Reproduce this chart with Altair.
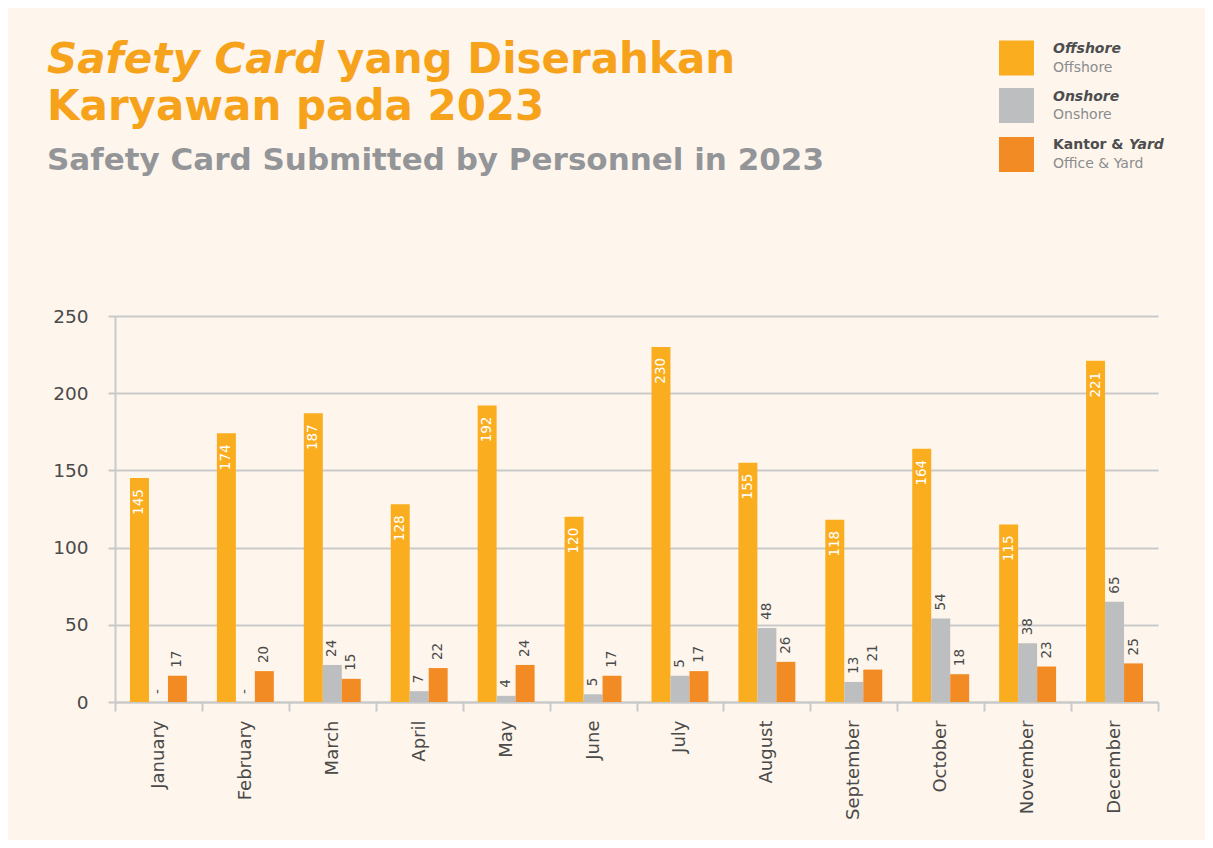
import altair as alt
import pandas as pd

months = ["January", "February", "March", "April", "May", "June", "July",
          "August", "September", "October", "November", "December"]
series_names = ["Offshore", "Onshore", "Office & Yard"]

offshore = [145, 174, 187, 128, 192, 120, 230, 155, 118, 164, 115, 221]
offshore_labels = ["145", "174", "187", "128", "192", "120", "230", "155", "118", "164", "115", "221"]
onshore = [0, 0, 24, 7, 4, 5, 17, 48, 13, 54, 38, 65]
onshore_labels = ["-", "-", "24", "7", "4", "5", "5", "48", "13", "54", "38", "65"]
office = [17, 20, 15, 22, 24, 17, 20, 26, 21, 18, 23, 25]
office_labels = ["17", "20", "15", "22", "24", "17", "17", "26", "21", "18", "23", "25"]

colors = ["#F9AD1F", "#BCBEC0", "#F38B25"]
BG = "#FEF6EC"
GRID = "#C9C9C9"
FONT = "DejaVu Sans"

rows = []
for vals, labs, name in [(offshore, offshore_labels, "Offshore"),
                         (onshore, onshore_labels, "Onshore"),
                         (office, office_labels, "Office & Yard")]:
    for m, v, l in zip(months, vals, labs):
        rows.append({"month": m, "series": name, "value": v, "label": l})
df = pd.DataFrame(rows)

x_enc = alt.X("month:N", sort=months, title=None,
              scale=alt.Scale(paddingInner=0, paddingOuter=0),
              axis=alt.Axis(labelAngle=270, labelFontSize=18, labelColor="#4A4A4A",
                            labelFont=FONT, labelPadding=9, tickSize=9, tickWidth=2,
                            tickColor=GRID, domainColor=GRID, domainWidth=2,
                            tickBand="extent", grid=False))
xoff = alt.XOffset("series:N", sort=series_names,
                   scale=alt.Scale(paddingInner=0, paddingOuter=0.79))
y_enc = alt.Y("value:Q", title=None,
              scale=alt.Scale(domain=[0, 250], nice=False),
              axis=alt.Axis(values=[0, 50, 100, 150, 200, 250], labelFontSize=18.5,
                            labelColor="#4A4A4A", labelFont=FONT, labelPadding=20,
                            tickSize=7, tickWidth=2, tickColor=GRID, gridColor=GRID,
                            gridWidth=2, domainColor=GRID, domainWidth=2))

base = alt.Chart(df)

bars = base.mark_bar().encode(
    x=x_enc, xOffset=xoff, y=y_enc,
    color=alt.Color("series:N", sort=series_names,
                    scale=alt.Scale(domain=series_names, range=colors), legend=None),
)

in_labels = base.transform_filter(alt.datum.series == "Offshore").mark_text(
    angle=270, align="right", baseline="middle", dx=-11, fontSize=13.5,
    font=FONT, color="white"
).encode(x=alt.X("month:N", sort=months), xOffset=xoff, y="value:Q", text="label:N")

out_labels = base.transform_filter(alt.datum.series != "Offshore").mark_text(
    angle=270, align="left", baseline="middle", dx=8, fontSize=13.5,
    font=FONT, color="#4A4A4A"
).encode(x=alt.X("month:N", sort=months), xOffset=xoff, y="value:Q", text="label:N")


def txt(s, x, y, size, color, weight="bold", style="normal", font=FONT):
    return alt.Chart(pd.DataFrame({"t": [s]})).mark_text(
        align="left", baseline="alphabetic", fontSize=size, fontWeight=weight,
        fontStyle=style, color=color, font=font
    ).encode(x=alt.value(x), y=alt.value(y), text="t:N")


def swatch(color, x, y):
    return alt.Chart(pd.DataFrame({"c": [color]})).mark_square(
        size=1225, opacity=1, color=color
    ).encode(x=alt.value(x), y=alt.value(y))


TITLE_C = "#F7A21B"
SUB_C = "#939598"
decor = [
    txt("Safety Card", -68, -243, 42, TITLE_C, "bold", "italic"),
    txt("yang Diserahkan", 222, -243, 42, TITLE_C),
    txt("Karyawan pada 2023", -68, -196, 42, TITLE_C),
    txt("Safety Card Submitted by Personnel in 2023", -68, -146, 31, SUB_C),
    swatch(colors[0], 901.5, -258),
    swatch(colors[1], 901.5, -210.5),
    swatch(colors[2], 901.5, -161.5),
    txt("Offshore", 938, -263, 14, "#4D4D4F", "bold", "italic"),
    txt("Offshore", 938, -244, 14, "#8A8C8E", "normal"),
    txt("Onshore", 938, -215, 14, "#4D4D4F", "bold", "italic"),
    txt("Onshore", 938, -197, 14, "#8A8C8E", "normal"),
    txt("Kantor &", 938, -167, 14, "#4D4D4F", "bold"),
    txt("Yard", 1014, -167, 14, "#4D4D4F", "bold", "italic"),
    txt("Office & Yard", 938, -148, 14, "#8A8C8E", "normal"),
]

chart = alt.layer(bars, in_labels, out_labels, *decor).properties(
    width=1043, height=386,
    autosize=alt.AutoSizeParams(type="none"),
    padding={"left": 107, "top": 308, "right": 47, "bottom": 138},
    background=BG,
).configure_view(stroke=None)

chart.save("out.html", embed_options={"renderer": "svg", "actions": False})
